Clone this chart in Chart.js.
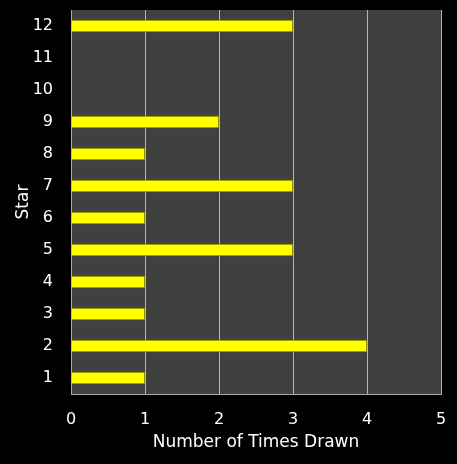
<!DOCTYPE html>
<html>
<head>
<meta charset="utf-8">
<script src="https://cdn.jsdelivr.net/npm/chart.js@4/dist/chart.umd.min.js"></script>
<style>
html,body{margin:0;padding:0;background:#000;}
canvas{display:block;}
</style>
</head>
<body>
<canvas id="c" width="457" height="464"></canvas>
<script>
const stars = ['1','2','3','4','5','6','7','8','9','10','11','12'];
const timesDrawn = [1,4,1,1,3,1,3,1,2,0,0,3];
const xTicks = [0,1,2,3,4,5];
const xTitle = 'Number of Times Drawn';
const yTitle = 'Star';

const bgPlugin = {
  id: 'bg',
  beforeDraw(chart) {
    const {ctx, chartArea: a} = chart;
    ctx.save();
    ctx.fillStyle = '#000';
    ctx.fillRect(0, 0, chart.width, chart.height);
    ctx.fillStyle = '#404040';
    ctx.fillRect(a.left, a.top, a.right - a.left, a.bottom - a.top);
    ctx.restore();
  }
};

const FONT = "'DejaVu Sans', Verdana, sans-serif";

new Chart(document.getElementById('c'), {
  type: 'bar',
  data: {
    labels: stars,
    datasets: [{
      data: timesDrawn,
      backgroundColor: '#ffff00',
      borderColor: '#8c8c00',
      borderWidth: 1,
      borderSkipped: 'start',
      categoryPercentage: 0.8,
      barPercentage: 0.48
    }]
  },
  options: {
    indexAxis: 'y',
    responsive: false,
    animation: false,
    devicePixelRatio: 1,
    layout: { padding: { top: 10, right: 16, left: 0, bottom: 0 } },
    plugins: { legend: { display: false }, tooltip: { enabled: false } },
    scales: {
      x: {
        min: xTicks[0],
        max: xTicks[xTicks.length - 1],
        afterBuildTicks(scale) { scale.ticks = xTicks.map(v => ({ value: v })); },
        afterFit(scale) { scale.height = 70; },
        grid: { color: '#b4b4b4', lineWidth: 1, drawTicks: true, tickLength: 16, tickColor: 'rgba(0,0,0,0)' },
        border: { display: true, color: '#a8a8a8', width: 1 },
        ticks: { color: '#ffffff', padding: 0, font: { family: FONT, size: 16 } },
        title: { display: true, text: xTitle, color: '#ffffff', padding: { top: 0, bottom: 11 }, font: { family: FONT, size: 17 } }
      },
      y: {
        reverse: true,
        afterFit(scale) { scale.width = 71; },
        grid: { display: false, drawTicks: true, tickLength: 18 },
        border: { display: true, color: '#a8a8a8', width: 1 },
        ticks: { color: '#ffffff', padding: 0, font: { family: FONT, size: 16 } },
        title: { display: true, text: yTitle, color: '#ffffff', padding: { top: 13, bottom: 0 }, font: { family: FONT, size: 17 } }
      }
    }
  },
  plugins: [bgPlugin]
});
</script>
</body>
</html>
